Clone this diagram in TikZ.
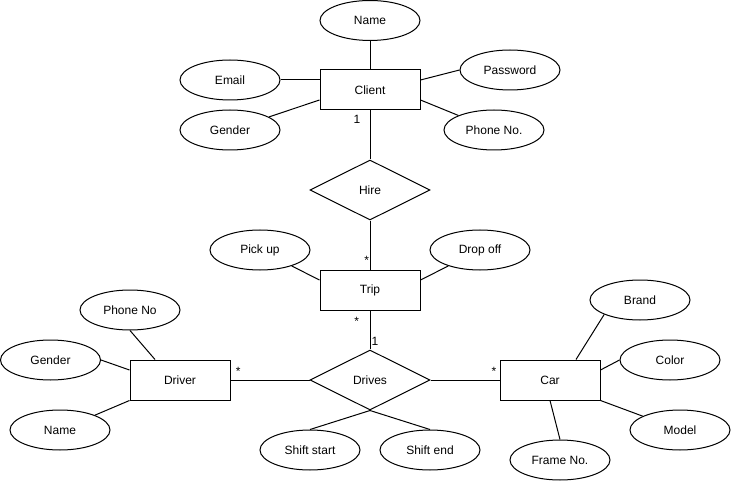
\documentclass[tikz,border=0pt]{standalone}
\usepackage{fontspec}
\setmainfont{Liberation Sans}
\usetikzlibrary{shapes.geometric}
\begin{document}
\begin{tikzpicture}[x=1pt,y=-1pt,
  every node/.style={font=\fontsize{12}{14}\selectfont},
  entity/.style={draw, line width=1pt, fill=white, minimum width=100pt, minimum height=40pt, inner sep=0pt},
  attr/.style={draw, ellipse, line width=1pt, fill=white, minimum width=100pt, minimum height=40pt, inner sep=0pt},
  rel/.style={draw, diamond, line width=1pt, fill=white, minimum width=120pt, minimum height=60pt, inner sep=0pt},
  link/.style={line width=1pt},
  card/.style={anchor=base, inner sep=0pt}]
\useasboundingbox (0,0) rectangle (731,481);

% entities
\node[entity] (client) at (370,90) {Client};
\node[entity] (trip) at (370,290) {Trip};
\node[entity] (driver) at (180,380) {Driver};
\node[entity] (car) at (550,380) {Car};

% relationships
\node[rel] (hire) at (370,190) {Hire};
\node[rel] (drives) at (370,380) {Drives};

% client attributes
\node[attr] (cname) at (370,20.5) {Name};
\node[attr] (cemail) at (230,80) {Email};
\node[attr] (cgender) at (230,130) {Gender};
\node[attr] (cpass) at (510,70) {Password};
\node[attr] (cphone) at (494,130) {Phone No.};

% trip attributes
\node[attr] (pickup) at (260,250) {Pick up};
\node[attr] (dropoff) at (480,250) {Drop off};

% driver attributes
\node[attr] (dphone) at (130,310) {Phone No};
\node[attr] (dgender) at (50.5,360) {Gender};
\node[attr] (dname) at (60,430) {Name};

% car attributes
\node[attr] (brand) at (640,300) {Brand};
\node[attr] (color) at (670,360) {Color};
\node[attr] (model) at (680,430) {Model};
\node[attr] (frame) at (560,460) {Frame No.};

% drives attributes
\node[attr] (sstart) at (310,450) {Shift start};
\node[attr] (send) at (430,450) {Shift end};

% connectors
\draw[link] (cname) -- (client);
\draw[link] (cemail.east) -- ([yshift=10pt]client.west);
\draw[link] (cgender) -- ([yshift=-10pt]client.west);
\draw[link] (cpass.west) -- ([yshift=10pt]client.east);
\draw[link] (cphone) -- ([yshift=-10pt]client.east);
\draw[link] (client) -- (hire);
\draw[link] (hire) -- (trip);
\draw[link] (pickup) -- ([yshift=10pt]trip.west);
\draw[link] (dropoff) -- ([yshift=10pt]trip.east);
\draw[link] (trip) -- (drives);
\draw[link] (driver) -- (drives);
\draw[link] (drives) -- (car);
\draw[link] (dphone.south) -- ([xshift=-25pt]driver.north);
\draw[link] (dgender.east) -- ([yshift=10pt]driver.west);
\draw[link] (dname) -- (driver.south west);
\draw[link] (brand.202) -- ([xshift=26pt]car.north);
\draw[link] (color.west) -- ([yshift=10pt]car.east);
\draw[link] (model) -- (car.south east);
\draw[link] (frame.north) -- (car.south);
\draw[link] (sstart.north) -- (drives.south);
\draw[link] (send.north) -- (drives.south);

% cardinalities
\node[card] (kclient) at (357,124) {1};
\node[card] (ktriptop) at (366.7,265) {*};
\node[card] (ktripbot) at (356.7,325.3) {*};
\node[card] (kdrives) at (375,345.7) {1};
\node[card] (kdriver) at (238.3,375.3) {*};
\node[card] (kcar) at (494,375.3) {*};
\end{tikzpicture}
\end{document}
